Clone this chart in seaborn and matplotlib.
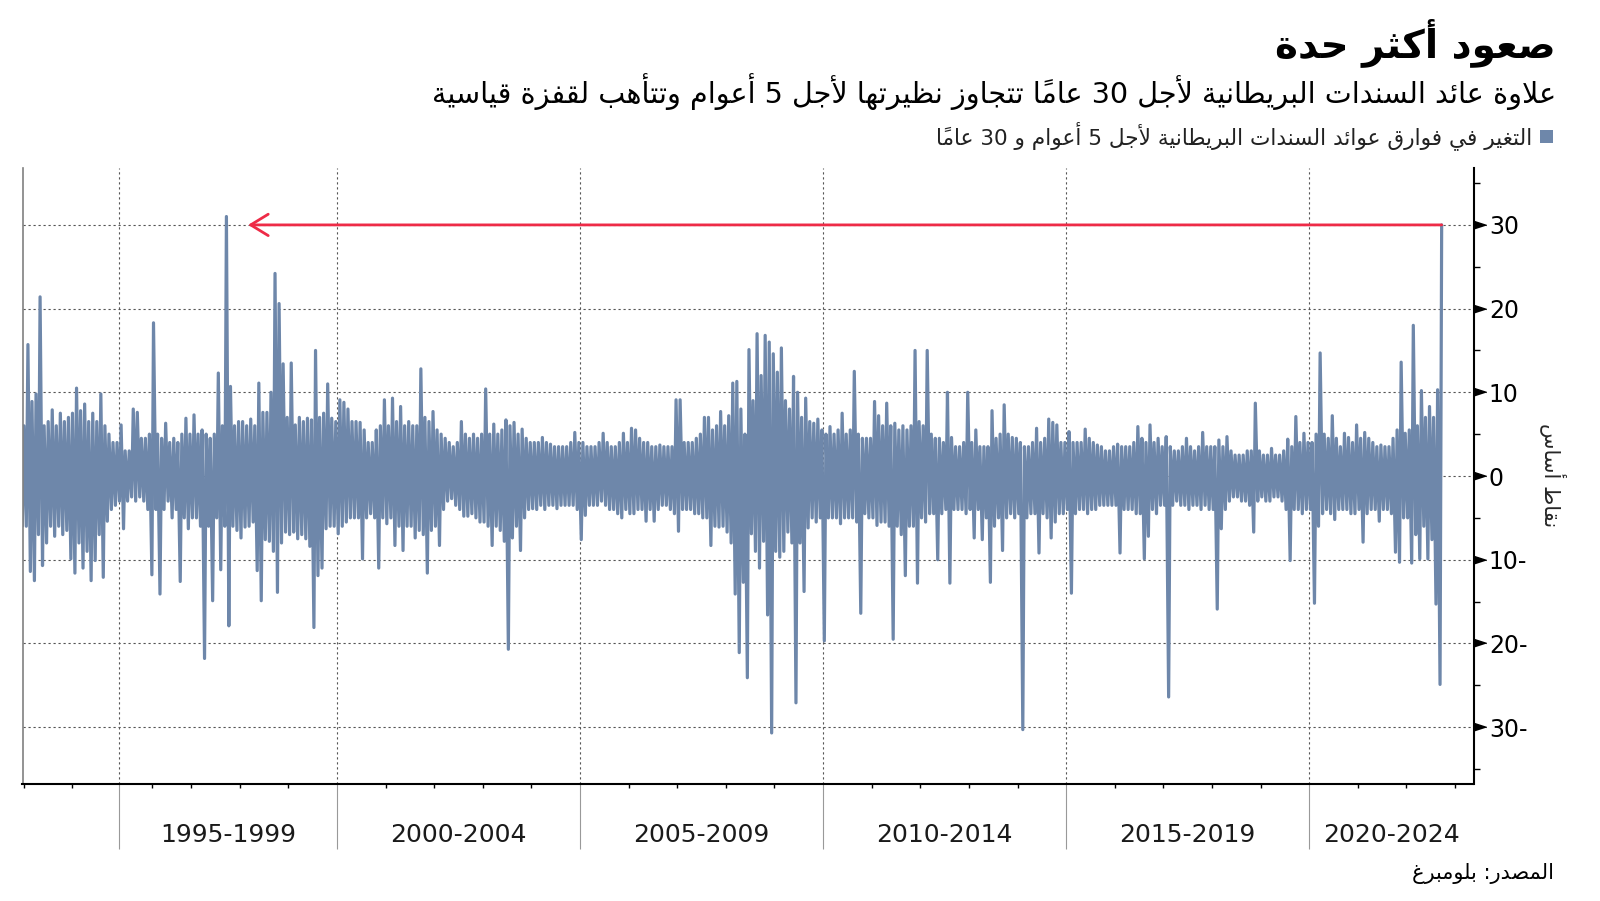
import numpy as np
import pandas as pd
import matplotlib
matplotlib.use("Agg")
import matplotlib.pyplot as plt
import matplotlib.transforms as mtransforms
from matplotlib.patches import Rectangle
import seaborn as sns

# Månedlig største og minste daglige endring i 5s30s (basispunkter), jul 1993 - sep 2022
months = pd.date_range("1993-07-01", "2022-09-01", freq="MS")

max_change = [
    6, 15.7, 8.9, 9.8, 21.4, 6,                                   # 1993
    6.5, 7.9, 6, 7.5, 6.5, 7, 7.5, 10.5, 7.8, 8.6, 6.5, 7.5,      # 1994
    6.5, 9.8, 6, 5, 4, 4, 6.1, 3, 3, 8, 7.6, 4.5,                 # 1995
    4.5, 5, 18.3, 5, 4.5, 6.3, 4, 4.5, 4, 5, 6.9, 5,              # 1996
    7.3, 5, 5.5, 5, 4.5, 5, 12.3, 6, 31, 10.7, 6, 6.5,            # 1997
    6.5, 6, 6.8, 6, 11.1, 7.6, 7.6, 10, 24.2, 20.6, 13.4, 7,      # 1998
    13.5, 6.1, 7, 6.5, 6.9, 6.7, 15, 7, 7.5, 11, 6.9, 6.5,        # 1999
    9.1, 8.8, 8, 6.5, 6.5, 6.4, 5.5, 4, 4, 5.5, 6, 9.1,           # 2000
    6, 9.3, 6.5, 8.3, 6, 6.5, 6, 6, 12.8, 7, 6.5, 7.7,            # 2001
    5.5, 5, 4.5, 4, 3.5, 4, 6.5, 5, 4.5, 5, 4.5, 5,               # 2002
    10.4, 5, 6.2, 5, 5.5, 6.7, 6, 6.4, 5, 5.6, 4.5, 4,            # 2003
    4, 4, 4.6, 4, 3.8, 3.5, 3.5, 3.5, 3.5, 4, 5.2, 4,             # 2004
    4, 3.5, 3.5, 3.5, 4, 5.1, 4, 3.5, 3.5, 4, 5.1, 4,             # 2005
    5.7, 5.5, 4.5, 4, 4, 3.5, 3.5, 3.7, 3.5, 3.5, 3.5, 9.1,       # 2006
    9.1, 4, 4, 4, 4.5, 5, 7, 7, 5.5, 6, 7.7, 6,                   # 2007
    7.2, 11.1, 11.3, 8, 5, 15.1, 9, 17, 12, 16.8, 16, 14.6,       # 2008
    12.4, 15.3, 9, 8, 11.9, 10, 7, 9.3, 6.5, 6.3, 6.8, 5.5,       # 2009
    5, 5.9, 5, 5.5, 7.5, 5, 5.5, 12.5, 5, 4.5, 4.5, 4.5,          # 2010
    8.9, 7.2, 6, 8.7, 6, 6.3, 5.5, 6, 5.5, 6, 15, 6.5,            # 2011
    6, 15, 5, 4.5, 4.5, 4, 10, 4.6, 3.5, 3.5, 4, 10,              # 2012
    4, 5.5, 3.5, 3.5, 3.5, 7.8, 4.5, 5, 8.5, 5, 4.6, 4.5,         # 2013
    4, 3.5, 3.5, 4, 5.7, 4, 4.5, 6.8, 6.4, 6.1, 4, 4,             # 2014
    5.3, 4, 4, 4, 5.6, 4.5, 4, 3.7, 3.5, 3, 3, 3.5,               # 2015
    3.8, 3.5, 3.5, 3.5, 4, 5.9, 4.5, 4, 6.1, 4, 4.5, 3.5,         # 2016
    4.7, 3.5, 3, 3, 3.5, 4.5, 3.5, 3, 3.5, 5.2, 3.5, 3.5,         # 2017
    3.5, 4.3, 3.5, 4.7, 3, 2.5, 2.5, 2.5, 3, 3, 8.7, 3,           # 2018
    2.5, 2.5, 3.3, 2.5, 2.5, 3, 4.4, 3.5, 7.1, 4, 5.1, 4,         # 2019
    4, 5, 14.7, 5, 4.5, 7.2, 4.5, 3.5, 5.1, 4.6, 4, 6.1,          # 2020
    4.5, 5.2, 4.5, 4, 3.5, 3.7, 3.5, 3.5, 4.5, 5.5, 13.6, 5.1,    # 2021
    5.5, 18, 6, 10.2, 7, 8.3, 7, 10.3, 30,                        # 2022
]

min_change = [
    -6, -6, -11.4, -12.5, -7, -10.7,                                      # 1993
    -8, -6, -7.2, -6, -7, -6.5, -9.9, -11.6, -8, -11, -9, -12.5,          # 1994
    -10.1, -7, -12.1, -5.4, -4, -3.5, -3, -6.3, -3, -2.5, -3, -2.5,       # 1995
    -3, -4, -11.8, -4, -14.1, -4, -3, -5, -4, -12.6, -5, -6.3,            # 1996
    -5, -5, -6, -21.8, -6, -14.9, -5, -11.2, -6, -17.9, -6, -6.5,         # 1997
    -7.4, -6.1, -6, -5.5, -11.3, -14.9, -7.6, -7.8, -9, -13.9, -8, -6.7,  # 1998
    -7, -6.7, -7.5, -7, -7.5, -8.4, -18.1, -11.9, -11, -6.3, -6, -6,      # 1999
    -6.9, -6, -5.5, -5, -5, -5, -9.9, -5, -4.5, -5, -11, -5,              # 2000
    -5.7, -5, -8.3, -6, -8.9, -6, -6, -7.4, -6.5, -7, -11.6, -6.5,        # 2001
    -6, -8.3, -4, -3, -2.7, -3.5, -4, -4.8, -4.8, -4.5, -5, -5.5,         # 2002
    -5.5, -6, -8.3, -6, -6.5, -7.8, -20.7, -7.4, -6, -8.9, -5, -4,        # 2003
    -3.9, -4, -3.5, -4, -3.5, -3.5, -3.9, -3.5, -3.5, -3.5, -3.5, -4,     # 2004
    -7.6, -4.7, -3.5, -3.5, -3.5, -3, -3.5, -4, -4, -4.5, -5, -4,         # 2005
    -4.5, -4.5, -4, -4, -5.4, -4, -5.4, -4, -3.5, -3.5, -4, -4.5,         # 2006
    -6.6, -4, -4, -4, -4.5, -4.5, -5, -5, -8.3, -6, -6.1, -6,             # 2007
    -6.7, -8, -14.1, -21.1, -12.7, -24.1, -6.9, -9, -11, -7.8, -16.6, -30.7,  # 2008
    -9, -9.7, -9, -6.7, -8, -27.1, -8, -13.8, -6.2, -5, -5.5, -5,         # 2009
    -19.7, -5, -5, -5, -5.7, -5, -5, -5, -5.5, -16.4, -4.5, -5,           # 2010
    -5, -5.9, -5.5, -5.5, -6, -19.5, -6, -7, -11.9, -6, -6, -12.8,        # 2011
    -5, -5.5, -4.5, -4.5, -10, -4.5, -4, -12.8, -4, -4, -4, -4.5,         # 2012
    -4, -7.4, -4, -7.6, -5, -12.7, -6, -5, -8.9, -5, -4.5, -5,            # 2013
    -4.5, -30.3, -5, -4.5, -4.5, -9.2, -4.5, -5, -7.4, -5.5, -4.5, -4.5,  # 2014
    -4, -14, -4.5, -4, -4, -4.5, -4, -4, -3.5, -3.5, -3.5, -3.5,          # 2015
    -3.5, -9.2, -4, -4, -4, -4.5, -4.5, -9.9, -7.2, -4, -4.5, -3.5,       # 2016
    -3.5, -26.4, -3.5, -3, -3.5, -3.5, -4, -3.5, -3.5, -4, -3.5, -4,      # 2017
    -4, -15.9, -6.3, -4, -3, -2.5, -2.5, -3, -3, -3.5, -6.7, -3,          # 2018
    -2.5, -3, -3, -2.5, -2.5, -3, -4, -10.1, -4, -4, -4.5, -4,            # 2019
    -4, -15.2, -6, -4.5, -4, -4.5, -5.2, -4, -4, -4, -4.5, -4.5,          # 2020
    -4, -7.9, -4.5, -4, -4, -5.4, -4, -4, -4.5, -9.1, -10.3, -5,          # 2021
    -5, -10.4, -7, -9.9, -6, -9.9, -7.6, -15.3, -24.9,                    # 2022
]

period_labels = ["1995-1999", "2000-2004", "2005-2009", "2010-2014", "2015-2019", "2020-2024"]
period_starts = [1995.51, 2000, 2005, 2010, 2015, 2020]
year_ticks = [1993.57, 1994.54, 1996.2, 1997, 1998, 1999, 2001, 2002, 2003, 2004,
              2006, 2007, 2008, 2009, 2011, 2012, 2013, 2014, 2016, 2017, 2018, 2019,
              2021, 2022, 2023]
y_ticks = [-30, -20, -10, 0, 10, 20, 30]
y_ticklabels = ["30-", "20-", "10-", "0", "10", "20", "30"]

title = "صعود أكثر حدة"
subtitle = "علاوة عائد السندات البريطانية لأجل 30 عاما\u064b تتجاوز نظيرتها لأجل 5 أعوام وتتأهب لقفزة قياسية"
legend_label = "التغير في فوارق عوائد السندات البريطانية لأجل 5 أعوام و 30 عاما\u064b"
y_label = "نقاط أساس"
source = "المصدر: بلومبرغ"

assert len(max_change) == len(months) == len(min_change)

# ---- enkel arabisk forming (presentasjonsformer + visuell rekkefølge) ----
ONE = "ء"
TWO = "آأؤإاةدذرزوى"
ORDER = "ءآأؤإئابةتثجحخدذرزسشصضطظعغفقكلمنهوىي"
START = {}
cp = 0xFE80
for ch in ORDER:
    START[ch] = cp
    cp += 1 if ch in ONE else (2 if ch in TWO else 4)
LAM_ALEF = {"آ": 0xFEF5, "أ": 0xFEF7, "إ": 0xFEF9, "ا": 0xFEFB}
MARKS = "\u064b\u064c\u064d\u064e\u064f\u0650\u0651\u0652"


def arabic(text):
    toks = []
    i = 0
    while i < len(text):
        c = text[i]
        if c == "ل" and i + 1 < len(text) and text[i + 1] in LAM_ALEF:
            toks.append(("LA", text[i + 1]))
            i += 2
        else:
            toks.append(c)
            i += 1

    def is_letter(t):
        return isinstance(t, tuple) or t in START

    def dual(t):
        return (not isinstance(t, tuple)) and t in START and t not in ONE and t not in TWO

    def neighbour(k, step):
        k += step
        while 0 <= k < len(toks) and (not isinstance(toks[k], tuple)) and toks[k] in MARKS:
            k += step
        return toks[k] if 0 <= k < len(toks) else None

    shaped = []
    for k, t in enumerate(toks):
        if not is_letter(t):
            shaped.append(t)
            continue
        prev, nxt = neighbour(k, -1), neighbour(k, 1)
        pj = prev is not None and dual(prev)
        if isinstance(t, tuple):
            shaped.append(chr(LAM_ALEF[t[1]] + (1 if pj else 0)))
            continue
        if t in ONE:
            shaped.append(chr(START[t]))
            continue
        nj = dual(t) and nxt is not None and is_letter(nxt)
        if t in TWO:
            form = 1 if pj else 0
        else:
            form = {(False, False): 0, (True, False): 1, (False, True): 2, (True, True): 3}[(pj, nj)]
        shaped.append(chr(START[t] + form))

    # klynger: tegn + merker, sifre samlet
    clusters = []
    for s in shaped:
        if s in MARKS and clusters:
            clusters[-1] += s
        elif s.isdigit() and clusters and clusters[-1].isdigit():
            clusters[-1] += s
        else:
            clusters.append(s)
    return "".join(reversed(clusters))


# ---- data til linje (sikksakk min/maks per måned) ----
t = months.year + (months.month - 1) / 12
x = np.column_stack([t + 0.3 / 12, t + 0.7 / 12]).ravel()
y = np.column_stack([min_change, max_change]).ravel()
df = pd.DataFrame({"year": x, "value": y})

bar_color = "#6e87aa"
red = "#ee2b47"

sns.set_theme(style="white")
plt.rcParams["font.family"] = ["DejaVu Sans"]

fig = plt.figure(figsize=(16, 9.01), dpi=100)
ax = fig.add_axes([22.5 / 1600, 1 - 784 / 901, (1473.5 - 22.5) / 1600, (784 - 168) / 901])

sns.lineplot(data=df, x="year", y="value", ax=ax, color=bar_color, linewidth=2.3, sort=False)

ax.set_xlim(1993.53, 2023.38)
ax.set_ylim(-36.8, 36.8)
ax.set_xlabel("")
ax.set_ylabel("")

# pil fra siste topp tilbake til rekorden i 1997
x_last = df["year"].iloc[-1]
ax.annotate("", xy=(1998.17, 30), xytext=(x_last, 30),
            arrowprops=dict(arrowstyle="->,head_length=0.9,head_width=0.55", color=red,
                            lw=2, shrinkA=0, shrinkB=0, mutation_scale=14), zorder=5)

# rutenett
ax.set_axisbelow(True)
ax.grid(True, which="major", axis="both", color="#555555", linestyle=(0, (2, 2.5)), linewidth=0.8)

# y-akse til høyre
ax.yaxis.tick_right()
ax.set_yticks(y_ticks)
ax.set_yticklabels(y_ticklabels)
ax.set_yticks([-35, -25, -15, -5, 5, 15, 25, 35], minor=True)
ax.tick_params(axis="y", which="major", length=0, pad=11, labelsize=17, labelcolor="black")
ax.tick_params(axis="y", which="minor", length=4, width=1, color="black", direction="out", right=True, left=False)
tri = [(-1, -0.65), (-1, 0.65), (1, 0)]
ax.plot([1.0043] * len(y_ticks), y_ticks, transform=ax.get_yaxis_transform(),
        marker=tri, markersize=9, color="black", linestyle="none", clip_on=False)

# x-akse
ax.set_xticks(period_starts)
ax.set_xticklabels([])
ax.set_xticks(year_ticks, minor=True)
ax.tick_params(axis="x", which="major", length=47, width=0.8, color="#999999", direction="out", bottom=True)
ax.tick_params(axis="x", which="minor", length=3, width=1, color="black", direction="out", bottom=True)

edges = period_starts + [2023.38]
trans = mtransforms.blended_transform_factory(ax.transData, fig.transFigure)
for lab, a, b in zip(period_labels, edges[:-1], edges[1:]):
    ax.text((a + b) / 2, 1 - 835 / 901, lab, transform=trans, ha="center", va="center",
            fontsize=18, color="#1a1a1a")

ax.spines["top"].set_visible(False)
ax.spines["left"].set_color("#808080")
ax.spines["left"].set_linewidth(1.2)
ax.spines["right"].set_color("black")
ax.spines["right"].set_linewidth(1.5)
ax.spines["bottom"].set_color("black")
ax.spines["bottom"].set_linewidth(1.5)

# tekster
fig.text(1553 / 1600, 1 - 475 / 901, arabic(y_label), rotation=270, ha="center", va="center", fontsize=15)
fig.text(1556 / 1600, 1 - 43 / 901, arabic(title), ha="right", va="center", fontsize=28,
         fontweight="bold", color="black")
fig.text(1556 / 1600, 1 - 92 / 901, arabic(subtitle), ha="right", va="center", fontsize=20.6, color="black")
fig.patches.append(Rectangle((1540 / 1600, 1 - 143 / 901), 13 / 1600, 13 / 901,
                             transform=fig.transFigure, facecolor=bar_color, edgecolor="none"))
fig.text(1532 / 1600, 1 - 136 / 901, arabic(legend_label), ha="right", va="center", fontsize=15.6, color="#222222")
fig.text(1554 / 1600, 1 - 874 / 901, arabic(source), ha="right", va="center", fontsize=15, color="black")

fig.savefig("out.png", dpi=100)
